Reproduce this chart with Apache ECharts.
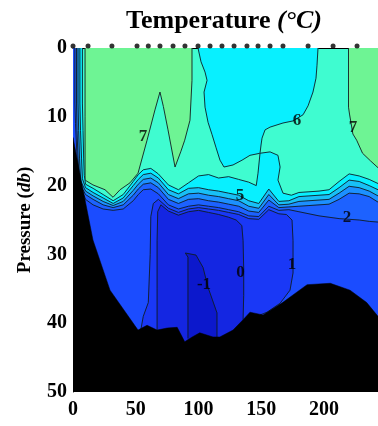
<!DOCTYPE html>
<html><head><meta charset="utf-8">
<script src="https://cdn.jsdelivr.net/npm/echarts@6/dist/echarts.min.js"></script>
<style>html,body{margin:0;padding:0;background:#fff}#c{width:378px;height:426px}</style>
</head><body><div id="c"></div>
<script>
// ---- axis data ----
const xAxisMax = 243;          // distance visible in the cropped figure
const yAxisMax = 50;           // pressure (db)
// ---- sampling stations (top dots) ----
const stationX = [0, 12, 31, 51, 60, 69.3, 79.7, 89.2, 99.6, 109.2, 118.7, 128.3, 138.6, 147.4, 157, 167.3, 187.3, 207.2, 226.3];
// ---- isotherm 7 (warm green areas) [distance, pressure] ----
const iso7Left = [[9.6,0],[9.6,10],[9.6,17],[9.6,19.2],[15.9,19.9],[25.5,20.6],[31.9,21.7],[37.5,20.6],[45.4,19.6],[51.8,18.2],[59,13.4],[65.3,9],[69.3,6.4],[72,8.5],[75.7,11.9],[81.3,17.3],[86,15],[89,13.4],[93.2,10.5],[94.8,4.7],[94.8,0]];
const iso7Right = [[219.5,0],[219.5,8.6],[220.3,9.6],[223,12.5],[226,13.4],[230.7,15.3],[237,16.4],[243,17.4]];
// ---- isotherm 6: upper cyan core and thermocline ----
const iso6Core = [[99.6,0],[102,2],[105.2,3.5],[106.8,4.7],[104.4,6.4],[105.2,8.6],[107.6,10.8],[110.8,12.6],[114,14.5],[117.1,16.3],[120.3,17.3],[127.5,17],[134.7,16.3],[141,15.6],[149,15.3],[149.8,14.1],[150.6,13.1],[153,11.9],[157,11.5],[167.3,10.9],[175.3,10.6],[183.3,9.7],[187.3,8.4],[191.2,6.4],[193.6,4.4],[194.4,2.5],[195.2,0]];
const iso6 = [[7.5,0],[7.5,8],[8,12],[8.5,16],[9,18.5],[10,19.8],[16,20.4],[24,21.3],[32,22.2],[40,21.3],[48,19.4],[52,18.4],[56,17.7],[62,17.5],[68,18.3],[76,19.9],[84,20.6],[92,19.6],[100,18.6],[108,18.4],[116,18.9],[124,18.7],[132,19.1],[140,19.5],[146,20],[147.4,18.2],[149,15.3],[157,15.1],[163.3,15.6],[165,17.3],[163.3,19.2],[167.3,21.1],[174,21.4],[180,21],[188,20.9],[196,20.8],[204,20.6],[212,19.4],[220,18.3],[228,18.6],[236,19.1],[243,19.7]];
// ---- thermocline isotherms 5..2 ----
const thermoX = [10,16,24,32,40,48,52,56,62,68,76,84,92,100,108,116,124,132,140,148,156,164,172,180,188,196,204,212,220,228,236,243];
const depth5 = [20.3,21,21.8,22.6,21.8,20,19.1,18.4,18.2,18.9,20.6,21.2,20.4,20.3,20.6,20.8,21.1,21.4,22.2,22.6,20.5,22.3,22.2,21.6,21.5,21.4,21.3,20.3,19.2,19.4,20,20.6];
const depth4 = [20.8,21.5,22.3,22.9,22.3,20.7,19.8,19.1,18.9,19.6,21.3,21.9,21.2,21.1,21.4,21.6,21.9,22.2,23,23.3,21.3,22.8,22.7,22.3,22.2,22.1,22,21.1,20.1,20.3,20.8,21.5];
const depth3 = [21.3,22,22.8,23.2,22.8,21.4,20.5,19.8,19.6,20.3,22,22.6,22,21.9,22.2,22.4,22.7,23,23.7,23.9,22.1,23.2,23.1,23,22.9,22.8,22.7,22,21.1,21.2,21.6,22.4];
const depth2 = [22,22.8,23.4,23.6,23.4,22.2,21.3,20.6,20.5,21.2,22.8,23.4,23,22.8,23,23.2,23.5,23.8,24.4,24.5,23,23.6,23.5,23.8,24.1,24.4,24.6,24.8,24.9,25,25.2,25.3];
const coast5 = [[5.5,0],[5.5,8],[6,12],[6.8,16],[7.5,19]];
const coast4 = [[4,0],[4,8],[4.5,12],[5.2,16],[6,19.3]];
const coast3 = [[2.8,0],[2.8,8],[3.2,12],[4,16],[5,19.6]];
const coast2 = [[1.5,0],[1.5,8],[2,11],[3,15],[4.5,19.5]];
// ---- cold core isotherms 1, 0, -1 ----
const iso1 = [[54,41],[56,39],[60,37],[61.5,30],[62,24.5],[64,22.6],[68,22],[76,23.3],[84,23.9],[92,23.4],[100,23.2],[108,23.4],[116,23.6],[124,23.9],[132,24.2],[140,24.8],[148,24.9],[156,23.5],[164,24.1],[170,24.2],[174.5,25],[175.3,28],[175.3,32.7],[172.9,35.2],[165,37.1],[154.6,38.4],[149,38.8]];
const iso0 = [[67,41],[67,35],[67,28],[67.5,23.8],[70,22.8],[76,23.7],[84,24.3],[92,23.8],[100,23.6],[108,23.9],[116,24.2],[124,24.6],[130,25],[134.5,25.8],[135.5,28],[136,32],[136,36],[135.5,39.5]];
const isoM1 = [[91.6,42.2],[91.6,35],[91.6,30.4],[89.5,29.8],[98,30.1],[103.6,31.9],[107.6,34.8],[114.7,38.5],[114.7,42.2]];
// ---- sea bed / no data ----
const seabed = [[0,13],[8,20.6],[15.9,27.9],[29.5,35.2],[51.8,41],[59,40.3],[67,41],[75,40.7],[83,40.6],[89,42.7],[95,42],[101,41.4],[111.5,42],[117,42],[127.5,41],[135.5,39.5],[141,38.4],[151.4,38.8],[167,37],[186.5,34.4],[205,34.2],[220.7,35.2],[234,37],[243,39]];
// ---- contour labels ----
const labelText = ['7','7','6','5','2','1','0','-1'];
const labelX = [55.8,223,178.5,133,218.3,174.5,133.5,104.4];
const labelD = [12.9,11.5,10.5,21.4,24.7,31.5,32.6,34.4];

const iso5 = coast5.concat(thermoX.map((x,i)=>[x,depth5[i]]));
const iso4 = coast4.concat(thermoX.map((x,i)=>[x,depth4[i]]));
const iso3 = coast3.concat(thermoX.map((x,i)=>[x,depth3[i]]));
const iso2 = coast2.concat(thermoX.map((x,i)=>[x,depth2[i]]));

const F = '"Liberation Serif","Times New Roman",serif';
const LINE = '#0f1d24';

function region(line, close, fill, stroke) {
  return {
    type: 'custom', coordinateSystem: 'cartesian2d', silent: true, clip: true,
    data: [[0, 0]],
    renderItem(params, api) {
      const poly = line.concat(close).map(p => api.coord(p));
      const children = [{type:'polygon', shape:{points:poly}, style:{fill:fill, stroke:fill, lineWidth:0.5}}];
      if (stroke) children.push({type:'polyline', shape:{points:line.map(p=>api.coord(p))}, style:{stroke:LINE, lineWidth:0.9, fill:null}});
      return {type:'group', children};
    }
  };
}
const bottomClose = [[xAxisMax,yAxisMax],[0,yAxisMax],[0,0]];

const chart = echarts.init(document.getElementById('c'), null, {renderer:'canvas'});
chart.setOption({
  animation: false,
  title: {
    text: 'Temperature {i|(°C)}', left: 121, top: 3,
    textStyle: {fontFamily: F, fontWeight: 'bold', fontSize: 26, color: '#000',
      rich: {i: {fontFamily: F, fontWeight: 'bold', fontStyle: 'italic', fontSize: 26, color: '#000'}}}
  },
  grid: {left: 73, right: 0, top: 48, bottom: 34, show: true, borderWidth: 0, backgroundColor: '#3ffcd0'},
  xAxis: {
    type: 'value', min: 0, max: xAxisMax, interval: 50,
    axisLine: {show: true, lineStyle: {color: '#000', width: 1}}, axisTick: {show: false}, splitLine: {show: false},
    axisLabel: {fontFamily: F, fontWeight: 'bold', fontSize: 20, color: '#000', margin: 8, showMaxLabel: false,
      formatter: v => (v % 50 === 0 ? String(v) : '')}
  },
  yAxis: {
    type: 'value', min: 0, max: yAxisMax, interval: 10, inverse: true,
    name: 'Pressure ({i|db})', nameLocation: 'middle', nameGap: 38, nameRotate: 90,
    nameTextStyle: {fontFamily: F, fontWeight: 'bold', fontSize: 19, color: '#000',
      rich: {i: {fontFamily: F, fontWeight: 'bold', fontStyle: 'italic', fontSize: 19, color: '#000'}}},
    axisLine: {show: true, lineStyle: {color: '#000', width: 1}}, axisTick: {show: false}, splitLine: {show: false},
    axisLabel: {fontFamily: F, fontWeight: 'bold', fontSize: 20, color: '#000', margin: 6}
  },
  series: [
    region(iso7Left, [], '#6ef494', true),
    region(iso7Right, [[xAxisMax,0]], '#6ef494', true),
    region(iso6Core, [], '#08f0ff', true),
    region(iso6, bottomClose, '#08f0ff', true),
    region(iso5, bottomClose, '#18c0f6', true),
    region(iso4, bottomClose, '#1c90ff', true),
    region(iso3, bottomClose, '#1d62ff', true),
    region(iso2, bottomClose, '#1b4cff', true),
    region(iso1, [[149,yAxisMax],[54,yAxisMax]], '#1a38f6', true),
    region(iso0, [[135.5,yAxisMax],[67,yAxisMax]], '#1426e2', true),
    region(isoM1, [[114.7,yAxisMax],[91.6,yAxisMax]], '#0c18cc', true),
    region(seabed, [[xAxisMax,yAxisMax],[0,yAxisMax]], '#000000', false),
    {
      type: 'scatter', silent: true, symbol: 'circle', symbolSize: 1,
      itemStyle: {color: 'rgba(0,0,0,0)'},
      data: labelText.map((t,i) => ({name: t, value: [labelX[i], labelD[i]]})),
      label: {show: true, position: 'inside', formatter: '{b}', fontFamily: F, fontWeight: 'bold', fontSize: 17, color: '#000'}
    },
    {
      type: 'scatter', silent: true, clip: false, symbol: 'circle', symbolSize: 5, symbolOffset: [0,-2],
      itemStyle: {color: '#000'},
      data: stationX.map(x => [x, 0])
    }
  ]
});
</script>
</body></html>
